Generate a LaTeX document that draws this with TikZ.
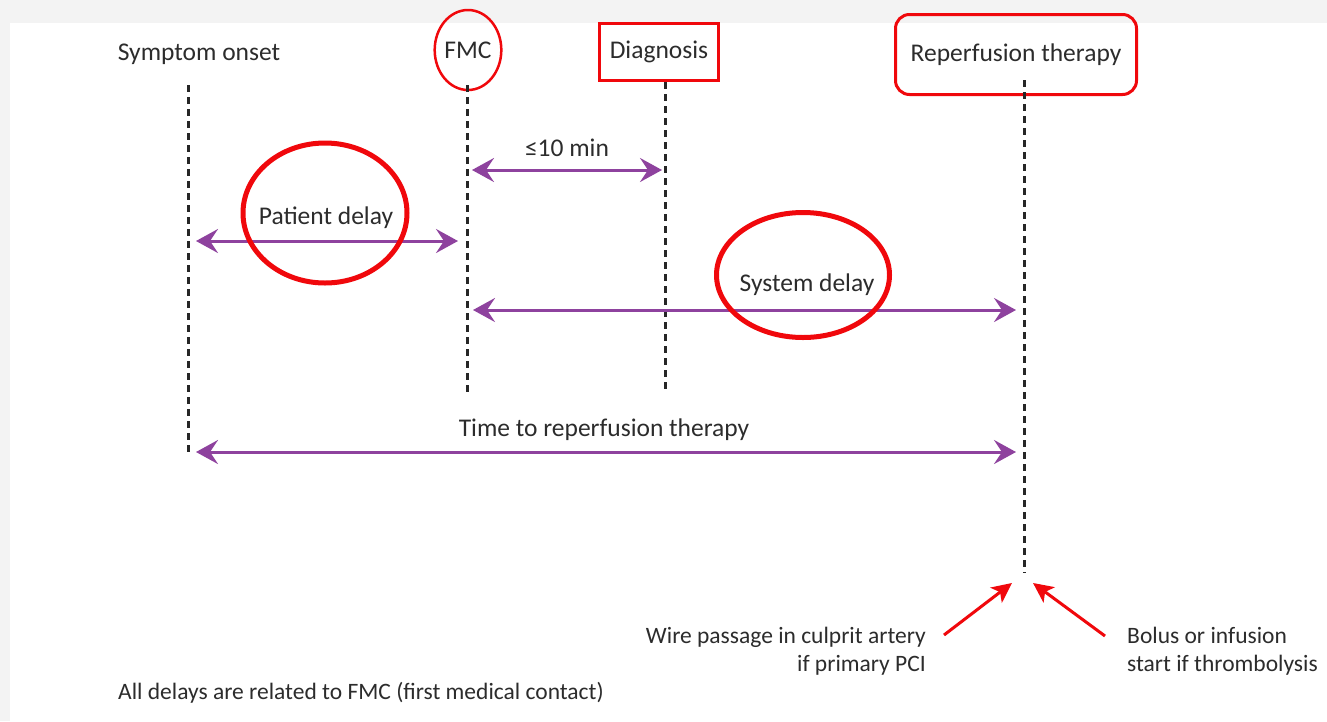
\documentclass[tikz,border=0pt]{standalone}
\usepackage{fontspec}
\setmainfont{Carlito}
\usetikzlibrary{arrows.meta,shapes.geometric}
\definecolor{lila}{RGB}{142,66,158}
\definecolor{rouge}{RGB}{240,8,12}
\definecolor{encre}{RGB}{44,44,44}
\definecolor{fond}{RGB}{243,243,243}
\tikzset{
  delai/.style={draw=lila, line width=3pt,
    {Stealth[length=22pt,width=24pt,inset=8pt]}-{Stealth[length=22pt,width=24pt,inset=8pt]}},
  repere/.style={draw=black!85, line width=3pt, dash pattern=on 7pt off 5pt},
  etiq/.style={text=encre, font=\fontsize{25.5}{30}\selectfont, inner sep=0pt},
  petit/.style={text=encre, font=\fontsize{23.5}{28}\selectfont, inner sep=0pt},
  cercle/.style={draw=rouge, line width=5pt},
  fleche/.style={draw=rouge, line width=3pt, -{Stealth[length=20pt,width=19pt,inset=5pt]}}
}
\begin{document}
\begin{tikzpicture}[x=1pt,y=-1pt]
		\useasboundingbox (0,0) rectangle (1327,721);
		\fill[fond] (0,0) rectangle (1327,721);
		\fill[white] (10,23) rectangle (1327,721);
		% les quatre instants
		\node[etiq] (onset) at (199,54) {Symptom onset};
		\node[etiq, ellipse, draw=rouge, line width=2.5pt, minimum width=62pt,
			minimum height=80pt] (fmc) at (468,50) {FMC};
		\node[etiq, draw=rouge, line width=3pt, minimum width=119pt,
			minimum height=57pt] (diag) at (659,52) {Diagnosis};
		\node[etiq, draw=rouge, line width=3pt, rounded corners=14pt, minimum width=241pt,
			minimum height=80pt] (repf) at (1016,54.5) {Reperfusion therapy};
		\foreach \n/\x/\ya/\yb in {so/188/85/452, fm/467/85/393, dg/665/82/392, rp/1024/80/573}
		{
			\coordinate (\n-h) at (\x,\ya);
			\coordinate (\n-b) at (\x,\yb);
			\draw[repere] (\n-h) -- (\n-b);
		}
		% les delais
		\foreach \n/\xa/\xb/\y in {dix/472/662/170, pat/196/458/241, sys/473/1016/310, tot/196/1016/452}
		{
			\coordinate (\n-g) at (\xa,\y);
			\coordinate (\n-d) at (\xb,\y);
			\draw[delai] (\n-g) -- (\n-d);
		}
		\node[etiq] (l-dix) at (567,148) {≤10 min};
		\node[etiq] (l-pat) at (326,218) {Patient delay};
		\node[etiq] (l-sys) at (807,285) {System delay};
		\node[etiq] (l-tot) at (604,430) {Time to reperfusion therapy};
		\draw[cercle] (325,213) ellipse [x radius=82, y radius=70];
		\draw[cercle] (803,275) ellipse [x radius=86.5, y radius=62.5];
		% debut du traitement
		\node[petit, align=right, anchor=east] (wire) at (926,651)
			{Wire passage in culprit artery\\if primary PCI};
		\node[petit, align=left, anchor=west] (bolus) at (1127,651)
			{Bolus or infusion\\start if thrombolysis};
		\coordinate (p-g) at (1012,583);
		\coordinate (p-d) at (1033,583);
		\coordinate (q-g) at (944,635);
		\coordinate (q-d) at (1105,636);
		\draw[fleche] (q-g) -- (p-g);
		\draw[fleche] (q-d) -- (p-d);
		\node[petit, anchor=west] (note) at (118,693)
			{All delays are related to FMC (first medical contact)};
\end{tikzpicture}
\end{document}
